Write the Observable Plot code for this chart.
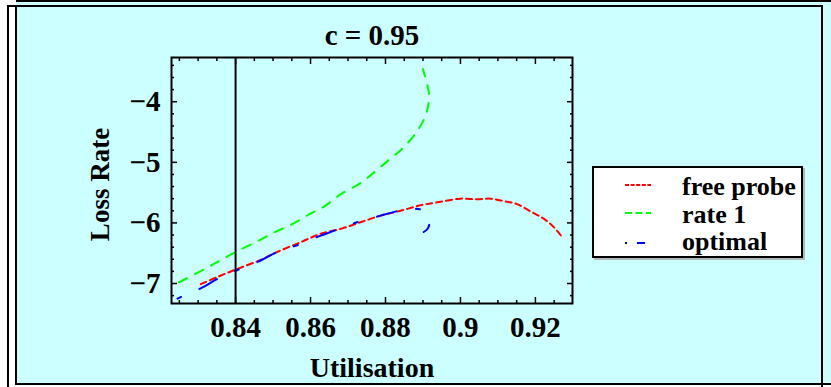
<!DOCTYPE html>
<html><head><meta charset="utf-8">
<script src="https://cdn.jsdelivr.net/npm/d3@7"></script>
<script src="https://cdn.jsdelivr.net/npm/@observablehq/plot@0.6"></script>
<style>
body{margin:0;background:#fff;}
#wrap{position:relative;width:831px;height:387px;overflow:hidden;}
#bg{position:absolute;left:16px;top:2px;width:815px;height:382px;background:#ccffff;}
#chart{position:absolute;left:0;top:0;}
.ln{position:absolute;background:#000;}
#legend{position:absolute;left:592px;top:166px;width:207px;height:88px;background:#fff;border:2px solid #000;box-shadow:2px 2px 0 #b0b8b8;}
#legend svg{display:block;}
</style></head>
<body>
<div id="wrap">
  <div id="bg"></div>
  <div class="ln" style="left:16px;top:0;width:815px;height:2px;"></div>
  <div class="ln" style="left:7px;top:5px;width:816px;height:2px;"></div>
  <div class="ln" style="left:7px;top:5px;width:2px;height:382px;"></div>
  <div class="ln" style="left:15px;top:5px;width:2px;height:380px;"></div>
  <div class="ln" style="left:821px;top:5px;width:2px;height:382px;"></div>
  <div class="ln" style="left:15px;top:383px;width:816px;height:2px;"></div>
  <div id="chart"></div>
  <div id="legend"></div>
</div>
<script>
const title = "c = 0.95";
const xLabel = "Utilisation";
const yLabel = "Loss Rate";
const seriesNames = ["free probe", "rate 1", "optimal"];
const seriesColors = ["#ff0000", "#00ff00", "#0000ff"];
const seriesDash = ["6,4", "9,9", "4,20,20,20"];

const freeProbeU    = [0.8307, 0.8356, 0.8400, 0.8467, 0.8511, 0.8573, 0.8627, 0.8685, 0.8733, 0.8787, 0.8840, 0.8893, 0.8938, 0.9000, 0.9045, 0.9080, 0.9116, 0.9151, 0.9187, 0.9222, 0.9249, 0.9272];
const freeProbeLoss = [-7.01, -6.88, -6.77, -6.61, -6.48, -6.32, -6.18, -6.09, -5.99, -5.88, -5.80, -5.71, -5.66, -5.60, -5.61, -5.60, -5.64, -5.69, -5.81, -5.93, -6.07, -6.24];

const rate1U    = [0.8249, 0.8315, 0.8356, 0.8400, 0.8453, 0.8502, 0.8551, 0.8596, 0.8636, 0.8680, 0.8729, 0.8769, 0.8813, 0.8849, 0.8885, 0.8907, 0.8915, 0.8916, 0.8911, 0.8900];
const rate1Loss = [-6.98, -6.77, -6.63, -6.48, -6.32, -6.16, -6.02, -5.86, -5.73, -5.53, -5.36, -5.17, -4.94, -4.75, -4.48, -4.23, -4.02, -3.87, -3.71, -3.46];

const optimalU    = [0.8245, 0.8262, 0.8307, 0.8356, 0.8400, 0.8467, 0.8511, 0.8564, 0.8627, 0.8667, 0.8724, 0.8787, 0.8835, 0.8860, 0.8885, 0.8902, 0.8915, 0.8918, 0.8912, 0.8902];
const optimalLoss = [-7.25, -7.20, -7.08, -6.91, -6.79, -6.62, -6.48, -6.37, -6.21, -6.12, -5.99, -5.88, -5.80, -5.77, -5.77, -5.80, -5.92, -5.99, -6.10, -6.15];

const markerU = [0.84];

const xTickValues = [0.84, 0.86, 0.88, 0.90, 0.92];
const xTickLabels = ["0.84", "0.86", "0.88", "0.9", "0.92"];
const xMinorTicks = [0.825, 0.83, 0.835, 0.845, 0.85, 0.855, 0.865, 0.87, 0.875, 0.885, 0.89, 0.895, 0.905, 0.91, 0.915, 0.925];
const yTickValues = [-7, -6, -5, -4];
const yTickLabels = ["\u22127", "\u22126", "\u22125", "\u22124"];
const yMinorTicks = [-7.2, -6.8, -6.6, -6.4, -6.2, -5.8, -5.6, -5.4, -5.2, -4.8, -4.6, -4.4, -4.2, -3.8, -3.6, -3.4];

const rows = (us, ls) => us.map((u, i) => ({u, loss: ls[i]}));
const series = [rows(freeProbeU, freeProbeLoss), rows(rate1U, rate1Loss), rows(optimalU, optimalLoss)];
const xLabelMap = new Map(xTickValues.map((v, i) => [v, xTickLabels[i]]));
const yLabelMap = new Map(yTickValues.map((v, i) => [v, yTickLabels[i]]));

const font = {fontFamily: "'Liberation Serif', 'DejaVu Serif', serif", fontWeight: "bold"};
const tk = {tickFormat: () => "", label: null, strokeWidth: 1.5};

const chart = Plot.plot({
  width: 831, height: 387,
  marginLeft: 171, marginRight: 259, marginTop: 57, marginBottom: 84,
  style: {background: "transparent", overflow: "visible", color: "black"},
  x: {domain: [0.8229, 0.9299]},
  y: {domain: [-7.33, -3.27]},
  marks: [
    ...series.map((s, i) => Plot.line(s, {x: "u", y: "loss", stroke: seriesColors[i], strokeWidth: 2, strokeDasharray: seriesDash[i], curve: "catmull-rom"})),
    Plot.ruleX(markerU, {stroke: "black", strokeWidth: 2}),
    Plot.axisX(xMinorTicks, {anchor: "bottom", tickSize: -3, ...tk}),
    Plot.axisX(xTickValues, {anchor: "bottom", tickSize: -6, ...tk}),
    Plot.axisX(xMinorTicks, {anchor: "top", tickSize: -3, ...tk}),
    Plot.axisX(xTickValues, {anchor: "top", tickSize: -6, ...tk}),
    Plot.axisY(yMinorTicks, {anchor: "left", tickSize: -3, ...tk}),
    Plot.axisY(yTickValues, {anchor: "left", tickSize: -6, ...tk}),
    Plot.axisY(yMinorTicks, {anchor: "right", tickSize: -3, ...tk}),
    Plot.axisY(yTickValues, {anchor: "right", tickSize: -6, ...tk}),
    Plot.axisX(xTickValues, {anchor: "bottom", tickSize: 0, tickPadding: 13, tickFormat: d => xLabelMap.get(d), label: null, fontSize: 29, ...font}),
    Plot.axisY(yTickValues, {anchor: "left", tickSize: 0, tickPadding: 11, tickFormat: d => yLabelMap.get(d), label: null, fontSize: 29, ...font}),
    Plot.frame({stroke: "black", strokeWidth: 2}),
    Plot.text([title], {text: d => d, frameAnchor: "top", dy: -22, lineAnchor: "middle", textAnchor: "middle", fontSize: 29, ...font}),
    Plot.text([xLabel], {text: d => d, frameAnchor: "bottom", dy: 65, lineAnchor: "middle", textAnchor: "middle", fontSize: 28, ...font}),
    Plot.text([yLabel], {text: d => d, frameAnchor: "left", dx: -71, dy: 4, rotate: -90, lineAnchor: "middle", textAnchor: "middle", fontSize: 27, ...font})
  ]
});
document.getElementById("chart").appendChild(chart);

// legend
const legendDash = ["4,1.6", "7,3.5", "2,10,8,30"];
const lg = d3.select("#legend").append("svg").attr("width", 207).attr("height", 88);
seriesNames.forEach((name, i) => {
  const cy = [17, 45, 75][i];
  lg.append("line").attr("x1", 31).attr("x2", 57).attr("y1", cy).attr("y2", cy)
    .attr("stroke", seriesColors[i]).attr("stroke-width", 2).attr("stroke-dasharray", legendDash[i]);
  lg.append("text").attr("x", 88).attr("y", [27, 55, 82][i]).text(name)
    .attr("font-family", "'Liberation Serif', serif").attr("font-weight", "bold").attr("font-size", 26);
});
</script>
</body></html>
